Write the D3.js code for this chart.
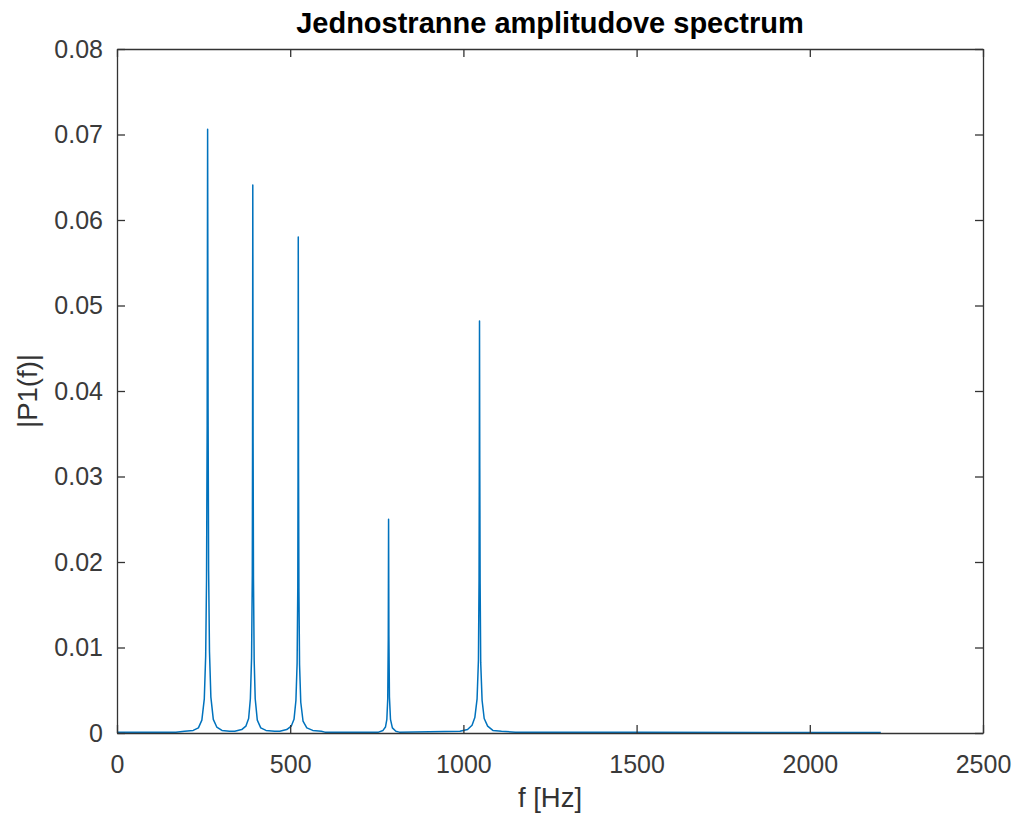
<!DOCTYPE html>
<html>
<head>
<meta charset="utf-8">
<script src="https://cdn.jsdelivr.net/npm/d3@7"></script>
<style>
  body { margin: 0; background: #fff; }
  #chart { width: 1021px; height: 821px; }
  .axis text { font-family: "Liberation Sans", Arial, sans-serif; font-size: 25px; fill: #3a3a3a; }
  .axis path, .axis line { stroke: #333; stroke-width: 1.3px; }
  .title { font-family: "Liberation Sans", Arial, sans-serif; font-size: 29px; font-weight: bold; fill: #000; }
  .label { font-family: "Liberation Sans", Arial, sans-serif; font-size: 27.5px; fill: #333; }
</style>
</head>
<body>
<div id="chart"></div>
<script>
// axis ticks
const xTicks = [0, 500, 1000, 1500, 2000, 2500];
const yTicks = [0, 0.01, 0.02, 0.03, 0.04, 0.05, 0.06, 0.07, 0.08];

// spectrum: [f (Hz), |P1(f)|]
const baseline = [[0, 0.0001], [100, 0.0001], [170, 0.0001], [600, 0.0001], [700, 0.0001],
                  [1150, 0.0001], [1500, 0.00008], [2000, 0.00006], [2205, 0.00005]];

const peakC4 = [[195, 0.0002], [220, 0.0003], [235, 0.0006], [245, 0.0015], [252, 0.0040],
                [256, 0.0090], [258.5, 0.0180], [260.3, 0.0360], [261.6, 0.0706], [262.9, 0.0380],
                [264.5, 0.0190], [267, 0.0095], [271, 0.0042], [278, 0.0016], [288, 0.0007],
                [303, 0.0003], [325, 0.0002]];

const peakG4 = [[340, 0.0002], [360, 0.0004], [372, 0.0008], [380, 0.0017], [385, 0.0040],
                [388.5, 0.0088], [390.6, 0.0185], [391.3, 0.0330], [392, 0.0641], [392.9, 0.0340],
                [394, 0.0180], [396, 0.0085], [399, 0.0040], [405, 0.0015], [415, 0.0006],
                [430, 0.0003], [455, 0.0002]];

const peakC5 = [[470, 0.0002], [490, 0.0004], [503, 0.0008], [511, 0.0016], [516.5, 0.0038],
                [520, 0.0082], [521.9, 0.0170], [522.6, 0.0300], [523.3, 0.0580], [524.1, 0.0310],
                [525.2, 0.0165], [527, 0.0080], [530.5, 0.0036], [537, 0.0014], [548, 0.0006],
                [565, 0.0003], [590, 0.0002]];

const peakG5 = [[755, 0.0001], [768, 0.0003], [775, 0.0007], [779, 0.0016], [781.6, 0.0040],
                [783.1, 0.0110], [784, 0.0250], [784.9, 0.0115], [786.5, 0.0042], [789.5, 0.0016],
                [795, 0.0006], [805, 0.0002], [815, 0.0001]];

const peakC6 = [[990, 0.0002], [1012, 0.0004], [1025, 0.0009], [1033, 0.0018], [1039.5, 0.0040],
                [1043.4, 0.0085], [1045.2, 0.0180], [1045.9, 0.0300], [1046.5, 0.0482], [1047.3, 0.0310],
                [1048.3, 0.0175], [1050, 0.0082], [1054, 0.0038], [1060, 0.0017], [1070, 0.0008],
                [1085, 0.0003], [1110, 0.0002]];

class SpectrumChart {

  constructor(_config) {
    this.config = {
      parentElement: _config.parentElement,
      containerWidth: 1021,
      containerHeight: 821
    };
    this.config.margin = _config.margin || { top: 49, bottom: 88, right: 38, left: 117 };
    this.initVis();
  }

  initVis() {
    let vis = this;

    vis.config.width = vis.config.containerWidth - vis.config.margin.left - vis.config.margin.right;
    vis.config.height = vis.config.containerHeight - vis.config.margin.top - vis.config.margin.bottom;

    vis.svgContainer = d3.select(vis.config.parentElement).append("svg")
        .attr("width", vis.config.containerWidth)
        .attr("height", vis.config.containerHeight);

    vis.svg = vis.svgContainer.append("g")
        .attr("transform", "translate(" + vis.config.margin.left + "," + vis.config.margin.top + ")");

    vis.xScale = d3.scaleLinear().domain([0, 2500]).range([0, vis.config.width]);
    vis.yScale = d3.scaleLinear().domain([0, 0.08]).range([vis.config.height, 0]);

    vis.svg.append("clipPath").attr("id", "clip")
      .append("rect")
        .attr("width", vis.config.width)
        .attr("height", vis.config.height);

    vis.updateVis();
  }

  updateVis() {
    let vis = this;
    const w = vis.config.width, h = vis.config.height;

    // merge baseline and peaks into one sorted series
    let data = baseline.concat(peakC4, peakG4, peakC5, peakG5, peakC6)
        .sort((a, b) => a[0] - b[0]);

    let line = d3.line()
        .x(d => vis.xScale(d[0]))
        .y(d => vis.yScale(d[1]));

    vis.svg.append("path")
        .datum(data)
        .attr("clip-path", "url(#clip)")
        .attr("fill", "none")
        .attr("stroke", "#0072BD")
        .attr("stroke-width", 1.5)
        .attr("stroke-linejoin", "round")
        .attr("d", line);

    let yFmt = d => d === 0 ? "0" : d3.format(".2f")(d);

    // axes, ticks inward on all four sides
    vis.svg.append("g")
        .attr("class", "axis")
        .attr("transform", "translate(0," + h + ")")
        .call(d3.axisBottom(vis.xScale).tickValues(xTicks).tickSizeInner(-8).tickSizeOuter(0)
          .tickPadding(22).tickFormat(d3.format("d")));

    vis.svg.append("g")
        .attr("class", "axis")
        .call(d3.axisTop(vis.xScale).tickValues(xTicks).tickSizeInner(-8).tickSizeOuter(0).tickFormat(""));

    vis.svg.append("g")
        .attr("class", "axis")
        .call(d3.axisLeft(vis.yScale).tickValues(yTicks).tickSizeInner(-8).tickSizeOuter(0)
          .tickPadding(14).tickFormat(yFmt));

    vis.svg.append("g")
        .attr("class", "axis")
        .attr("transform", "translate(" + w + ",0)")
        .call(d3.axisRight(vis.yScale).tickValues(yTicks).tickSizeInner(-8).tickSizeOuter(0).tickFormat(""));

    // titles
    vis.svg.append("text")
        .attr("class", "title")
        .attr("x", w / 2)
        .attr("y", -16)
        .attr("text-anchor", "middle")
        .text("Jednostranne amplitudove spectrum");

    vis.svg.append("text")
        .attr("class", "label")
        .attr("x", w / 2)
        .attr("y", h + 74)
        .attr("text-anchor", "middle")
        .text("f [Hz]");

    vis.svg.append("text")
        .attr("class", "label")
        .attr("transform", "translate(-80," + (h / 2) + ") rotate(-90)")
        .attr("text-anchor", "middle")
        .text("|P1(f)|");
  }
}

new SpectrumChart({ parentElement: "#chart" });
</script>
</body>
</html>
